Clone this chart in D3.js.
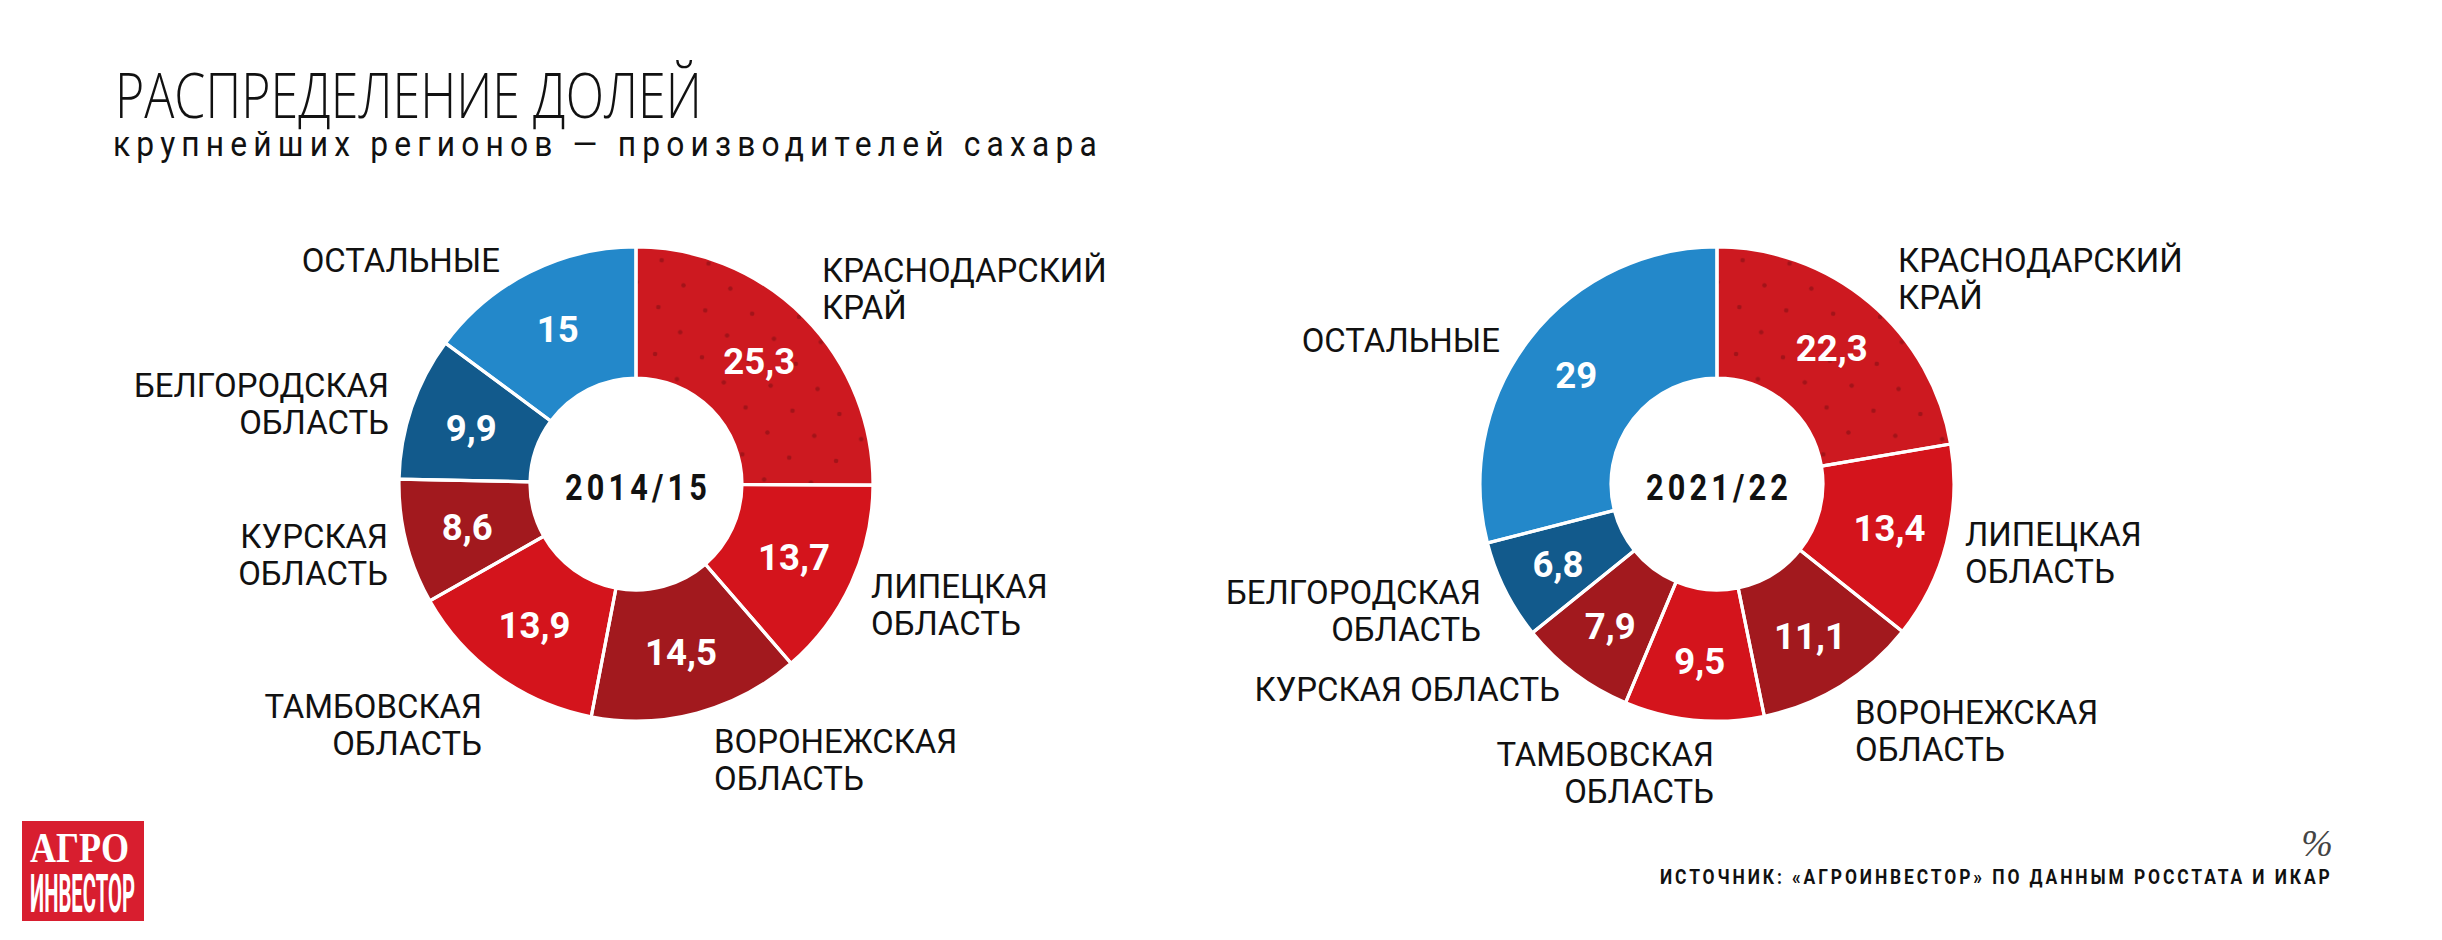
<!DOCTYPE html>
<html><head><meta charset="utf-8">
<script src="https://cdn.jsdelivr.net/npm/d3@7"></script>
<style>body{margin:0;background:#fff} svg{display:block}</style>
</head><body>
<svg id="c" width="2442" height="940"></svg>
<script>
// ---------- DATA ----------
const regions = ["КРАСНОДАРСКИЙ КРАЙ", "ЛИПЕЦКАЯ ОБЛАСТЬ", "ВОРОНЕЖСКАЯ ОБЛАСТЬ", "ТАМБОВСКАЯ ОБЛАСТЬ", "КУРСКАЯ ОБЛАСТЬ", "БЕЛГОРОДСКАЯ ОБЛАСТЬ", "ОСТАЛЬНЫЕ"];
const seasons = ["2014/15", "2021/22"];
const shares2014 = [25.3, 13.7, 14.5, 13.9, 8.6, 9.9, 15];
const shares2021 = [22.3, 13.4, 11.1, 9.5, 7.9, 6.8, 29];
const title = "РАСПРЕДЕЛЕНИЕ ДОЛЕЙ";
const subtitle = "крупнейших регионов — производителей сахара";
const unit = "%";
const source = "ИСТОЧНИК: «АГРОИНВЕСТОР» ПО ДАННЫМ РОССТАТА И ИКАР";

// ---------- STYLE ----------
const FONT = "Roboto, 'Open Sans', sans-serif";
const regionColors = ["KR", "#d4141c", "#a2191e", "#d4141c", "#a2191e", "#125a8c", "#2388ca"];
const svg = d3.select("#c");
svg.append("rect").attr("width", 2442).attr("height", 940).attr("fill", "#fff");
const defs = svg.append("defs");

// dots pattern for Krasnodar
const pat = defs.append("pattern").attr("id", "dots").attr("patternUnits", "userSpaceOnUse")
  .attr("width", 47).attr("height", 47).attr("patternTransform", "rotate(4)");
[[10, 10], [33.5, 33.5]].forEach(p => pat.append("circle").attr("cx", p[0]).attr("cy", p[1]).attr("r", 2.3).attr("fill", "#6e0b10").attr("fill-opacity", 0.45));

function fitX(sel, target) {
  const w = sel.node().getBBox().width;
  return target / w;
}

// ---------- TITLE ----------
const t1 = svg.append("text").attr("font-family", "'Open Sans', Roboto, sans-serif").attr("font-weight", 300).attr("font-size", 63)
  .attr("fill", "#111").text(title);
t1.attr("transform", `translate(115,118) scale(${fitX(t1, 587)},1)`);
const t2 = svg.append("text").attr("font-family", FONT).attr("font-weight", 400).attr("font-size", 36)
  .attr("letter-spacing", 7).attr("fill", "#111").text(subtitle);
t2.attr("transform", `translate(113,156) scale(${fitX(t2, 990)},1)`);

// ---------- LABEL FONT FACTOR ----------
const tmp = svg.append("text").attr("font-family", FONT).attr("font-size", 33).text("БЕЛГОРОДСКАЯ");
const kLabel = fitX(tmp, 255);
tmp.remove();
const tmpN = svg.append("text").attr("font-family", FONT).attr("font-weight", 700).attr("font-size", 37).text("22,3");
const kNum = fitX(tmpN, 72);
tmpN.remove();

// ---------- CHART LAYOUT ----------
const charts = [
  { season: seasons[0], values: shares2014, cx: 636, cy: 484, labelR: 174,
    labels: [
      { lines: ["КРАСНОДАРСКИЙ", "КРАЙ"], anchor: "start", x: 822, y: 282 },
      { lines: ["ЛИПЕЦКАЯ", "ОБЛАСТЬ"], anchor: "start", x: 871, y: 598 },
      { lines: ["ВОРОНЕЖСКАЯ", "ОБЛАСТЬ"], anchor: "start", x: 714, y: 753 },
      { lines: ["ТАМБОВСКАЯ", "ОБЛАСТЬ"], anchor: "end", x: 482, y: 718 },
      { lines: ["КУРСКАЯ", "ОБЛАСТЬ"], anchor: "end", x: 388, y: 548 },
      { lines: ["БЕЛГОРОДСКАЯ", "ОБЛАСТЬ"], anchor: "end", x: 389, y: 397 },
      { lines: ["ОСТАЛЬНЫЕ"], anchor: "end", x: 500, y: 272 }
    ] },
  { season: seasons[1], values: shares2021, cx: 1717, cy: 484, labelR: 178,
    labels: [
      { lines: ["КРАСНОДАРСКИЙ", "КРАЙ"], anchor: "start", x: 1898, y: 272 },
      { lines: ["ЛИПЕЦКАЯ", "ОБЛАСТЬ"], anchor: "start", x: 1965, y: 546 },
      { lines: ["ВОРОНЕЖСКАЯ", "ОБЛАСТЬ"], anchor: "start", x: 1855, y: 724 },
      { lines: ["ТАМБОВСКАЯ", "ОБЛАСТЬ"], anchor: "end", x: 1714, y: 766 },
      { lines: ["КУРСКАЯ ОБЛАСТЬ"], anchor: "end", x: 1560, y: 701 },
      { lines: ["БЕЛГОРОДСКАЯ", "ОБЛАСТЬ"], anchor: "end", x: 1481, y: 604 },
      { lines: ["ОСТАЛЬНЫЕ"], anchor: "end", x: 1500, y: 352 }
    ] }
];

const R_OUT = 237, R_IN = 106;
const pie = d3.pie().sort(null).value(d => d);
const arc = d3.arc().innerRadius(R_IN).outerRadius(R_OUT);
const fmt = v => String(v).replace(".", ",");

charts.forEach((ch, ci) => {
  const gid = "krg" + ci;
  const rg = defs.append("radialGradient").attr("id", gid).attr("gradientUnits", "userSpaceOnUse")
    .attr("cx", ch.cx).attr("cy", ch.cy).attr("r", R_OUT);
  rg.append("stop").attr("offset", 0.44).attr("stop-color", "#a5141a");
  rg.append("stop").attr("offset", 0.72).attr("stop-color", "#bc161d");
  rg.append("stop").attr("offset", 1).attr("stop-color", "#cd1920");

  const g = svg.append("g").attr("transform", `translate(${ch.cx},${ch.cy})`);
  const arcs = pie(ch.values);
  const fill = i => regionColors[i] === "KR" ? `url(#${gid})` : regionColors[i];

  g.selectAll("path.slice").data(arcs).enter().append("path").attr("class", "slice")
    .attr("d", arc).attr("fill", (d, i) => fill(i));
  g.append("path").attr("d", arc(arcs[0])).attr("fill", "url(#dots)");
  g.selectAll("path.sep").data(arcs).enter().append("path").attr("class", "sep")
    .attr("d", arc).attr("fill", "none").attr("stroke", "#fff").attr("stroke-width", 3.2);

  const labArc = d3.arc().innerRadius(ch.labelR).outerRadius(ch.labelR);
  arcs.forEach((d, i) => {
    const [x, y] = labArc.centroid(d);
    g.append("text").attr("font-family", FONT).attr("font-weight", 700).attr("font-size", 37)
      .attr("fill", "#fff").attr("text-anchor", "middle")
      .attr("transform", `translate(${x},${y + 13}) scale(${kNum},1)`)
      .text(fmt(d.data));
  });

  const ct = g.append("text").attr("font-family", FONT).attr("font-weight", 700).attr("font-size", 37)
    .attr("letter-spacing", 5).attr("fill", "#111").text(ch.season);
  const k = fitX(ct, 146);
  const w = ct.node().getBBox().width * k;
  ct.attr("transform", `translate(${-w / 2 + 2},${16}) scale(${k},1)`);

  ch.labels.forEach(lb => {
    lb.lines.forEach((line, li) => {
      svg.append("text").attr("font-family", FONT).attr("font-weight", 400).attr("font-size", 33)
        .attr("fill", "#111").attr("text-anchor", lb.anchor)
        .attr("transform", `translate(${lb.x},${lb.y + li * 37}) scale(${kLabel},1)`)
        .text(line);
    });
  });
});

// ---------- FOOTER ----------
svg.append("text").attr("font-family", "'Liberation Serif', serif").attr("font-style", "italic")
  .attr("font-weight", 400).attr("font-size", 38).attr("fill", "#444").attr("text-anchor", "end")
  .attr("x", 2333).attr("y", 856).text(unit);
const src = svg.append("text").attr("font-family", FONT).attr("font-weight", 700).attr("font-size", 21)
  .attr("letter-spacing", 3.5).attr("fill", "#111").text(source);
src.attr("transform", `translate(1660,884) scale(${fitX(src, 673)},1)`);

// logo
const logo = svg.append("g");
logo.append("rect").attr("x", 22).attr("y", 821).attr("width", 122).attr("height", 100).attr("fill", "#d81e2f");
const l1 = logo.append("text").attr("font-family", "'Liberation Serif', serif").attr("font-weight", 700)
  .attr("font-size", 42).attr("fill", "#fff").text("АГРО");
l1.attr("transform", `translate(30,862) scale(${fitX(l1, 99)},1)`);
const l2 = logo.append("text").attr("font-family", FONT).attr("font-weight", 700)
  .attr("font-size", 54).attr("fill", "#fff").text("ИНВЕСТОР");
l2.attr("transform", `translate(30,912) scale(${fitX(l2, 105)},1)`);
</script>
</body></html>
